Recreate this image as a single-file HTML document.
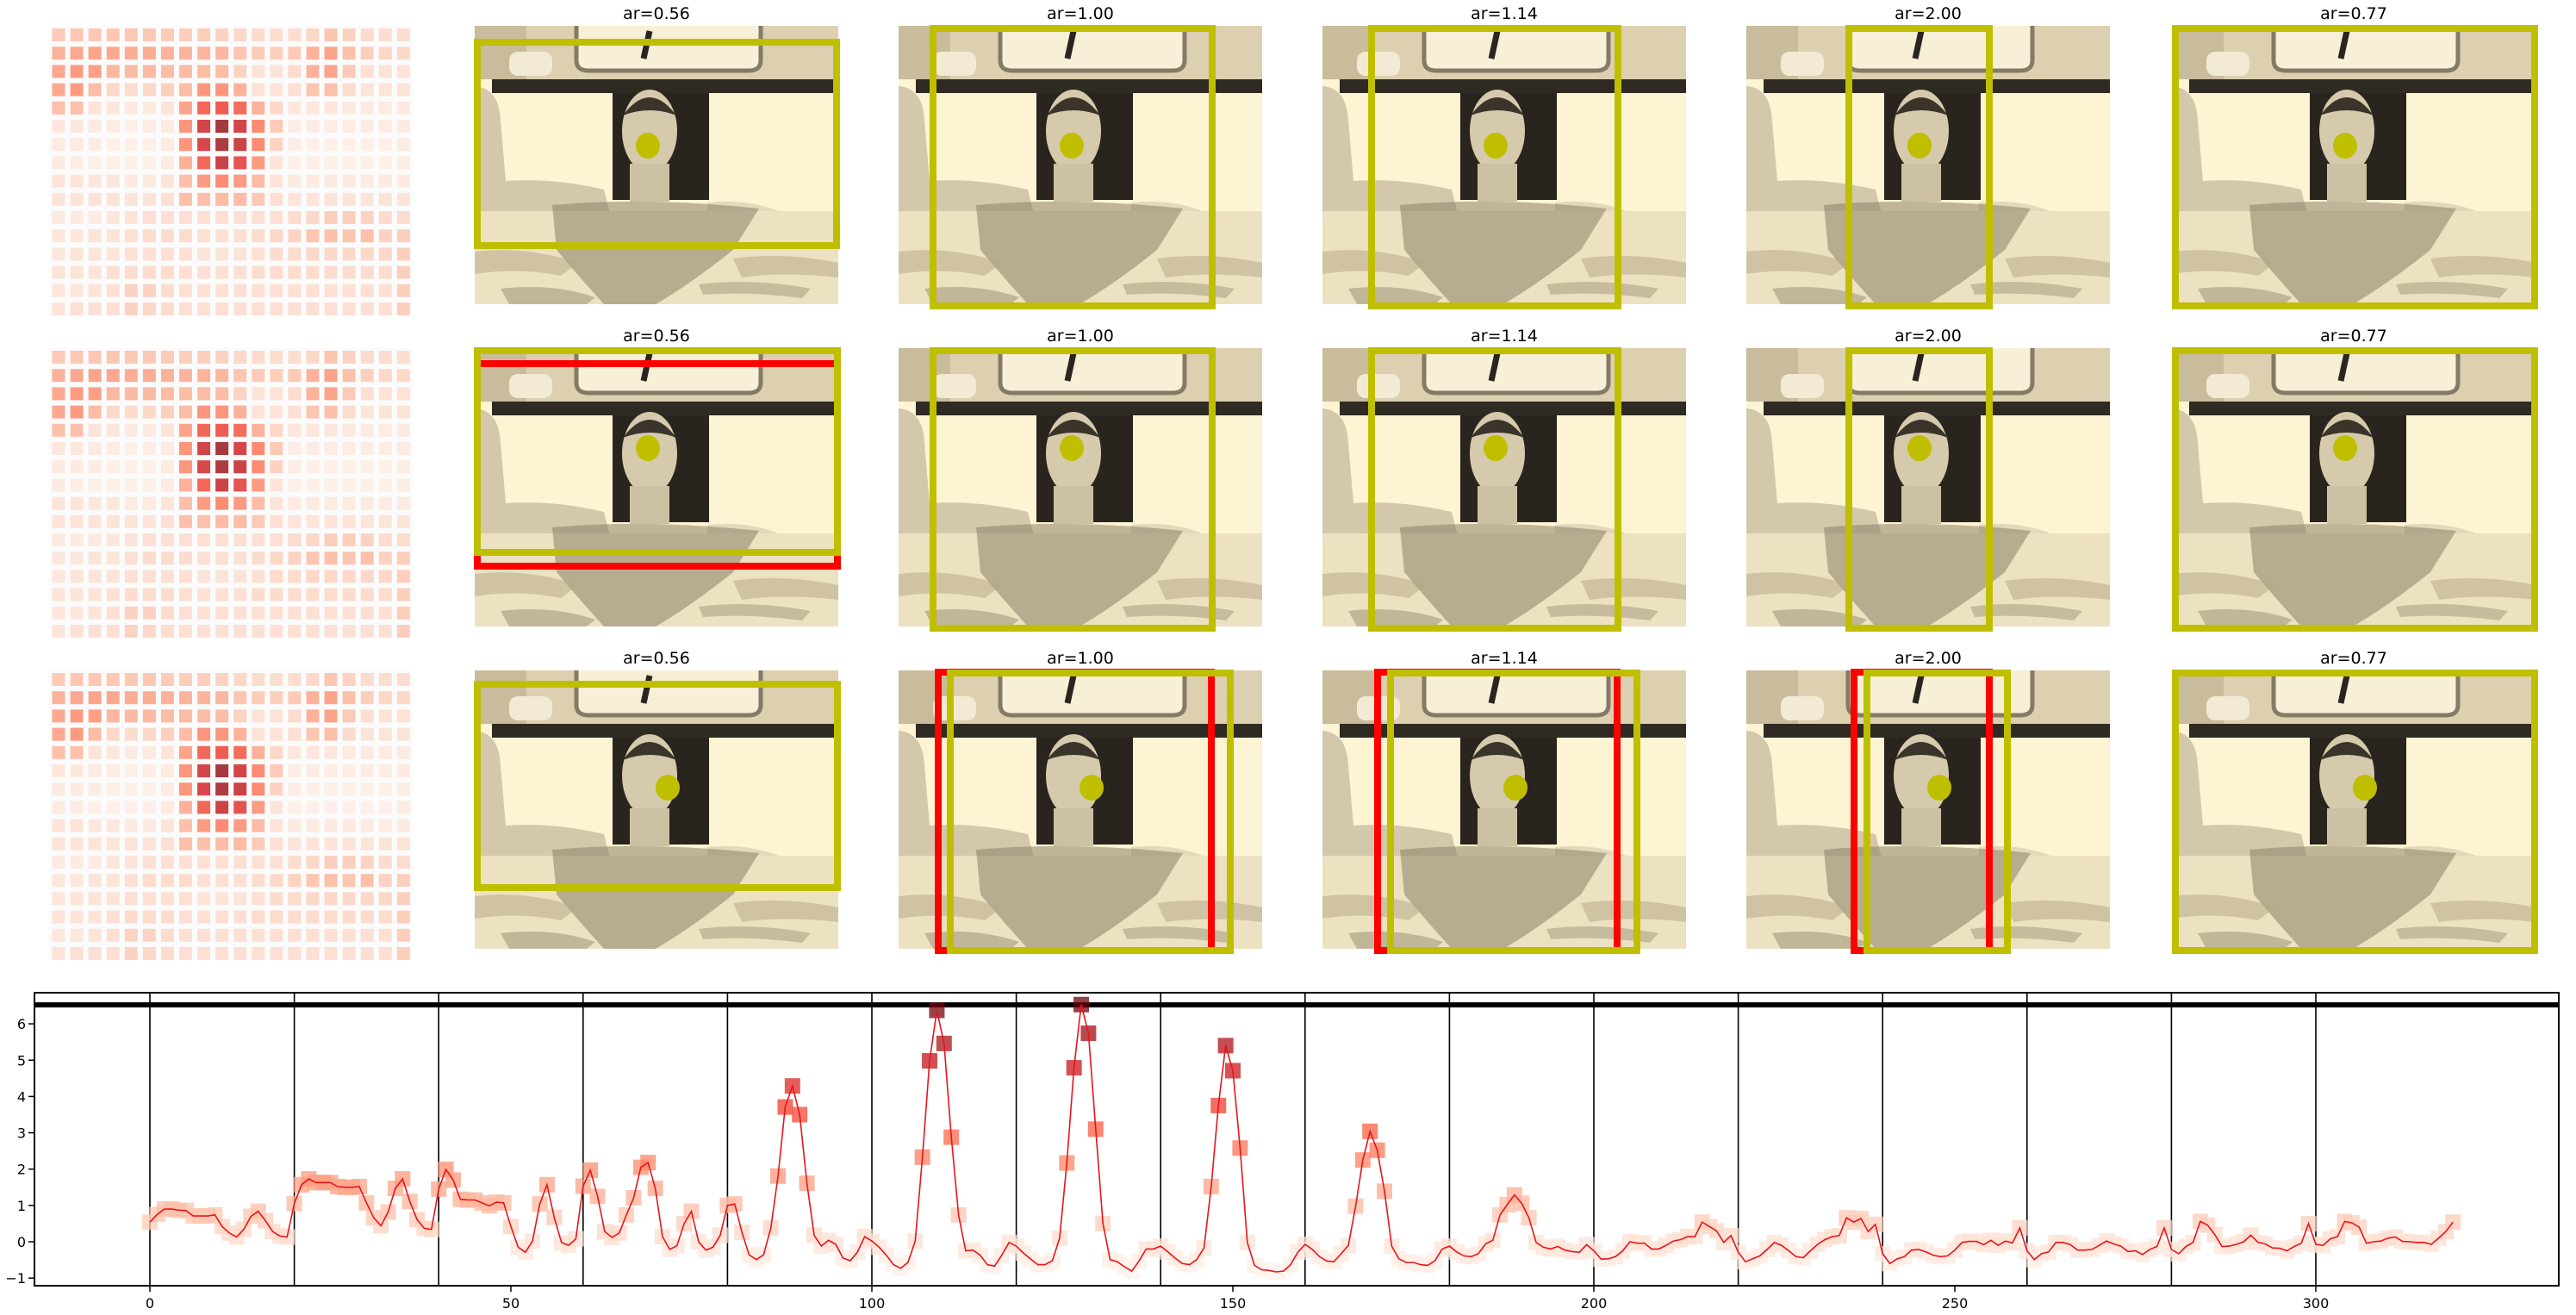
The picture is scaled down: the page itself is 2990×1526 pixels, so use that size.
<!DOCTYPE html>
<html><head><meta charset="utf-8">
<style>
html,body{margin:0;padding:0;background:#fff;}
svg{display:block;}
text{font-family:"DejaVu Sans","Liberation Sans",sans-serif;}
</style></head>
<body>
<svg id="fig" width="2990" height="1526" viewBox="0 0 2990 1526" xmlns="http://www.w3.org/2000/svg">
<defs>
<symbol id="photo" viewBox="0 0 422 323">
  <rect x="0" y="0" width="422" height="323" fill="#fcf4d2"/>
  <rect x="0" y="0" width="422" height="62" fill="#ddd0b0"/>
  <rect x="0" y="0" width="60" height="62" fill="#c9bc9c"/>
  <path d="M118 0 V40 Q118 52 132 52 H318 Q332 52 332 40 V0" fill="#f7efd6" stroke="#857a66" stroke-width="5"/>
  <path d="M203 6 L196 38" stroke="#2a251e" stroke-width="7"/>
  <rect x="40" y="30" width="50" height="28" rx="10" fill="#f2ead4"/>
  <rect x="20" y="62" width="402" height="16" fill="#2f2a22"/>
  <rect x="160" y="78" width="112" height="124" fill="#29241d"/>
  <path d="M0 70 Q28 72 30 110 L36 180 Q90 176 150 190 L160 230 L0 235 Z" fill="#d3c8ac"/>
  <path d="M270 205 Q320 200 360 218 L350 236 L270 232 Z" fill="#e3d8bc"/>
  <ellipse cx="203" cy="122" rx="32" ry="48" fill="#d6caac"/>
  <path d="M172 104 Q203 62 234 104 Q203 92 172 104 Z" fill="#3a342b"/>
  <rect x="180" y="160" width="46" height="44" fill="#cdc1a3"/>
  <rect x="0" y="215" width="422" height="108" fill="#ece1c0"/>
  <path d="M90 208 Q200 198 330 212 L300 260 Q250 300 210 323 L150 323 Q120 290 95 260 Z" fill="#8d8168" opacity="0.55"/>
  <path d="M0 262 Q60 255 120 275 L100 290 Q50 280 0 288 Z" fill="#b4a685" opacity="0.5"/>
  <path d="M300 270 Q360 262 422 275 L422 292 Q360 285 310 292 Z" fill="#b4a685" opacity="0.5"/>
  <path d="M30 305 Q90 298 140 315 L130 323 L40 323 Z" fill="#8f8268" opacity="0.45"/>
  <path d="M260 300 Q320 292 390 305 L380 316 Q320 308 265 312 Z" fill="#8f8268" opacity="0.4"/>
</symbol>
</defs>
<g id="topgrid"></g>
<g id="chart"></g>
</svg>
<script>
// ===== Chart data =====
const xIndex = Array.from({length:320},(_, i)=>i);
const scores = [
0.54,0.75,0.9,0.9,0.87,0.86,0.71,0.71,0.71,0.74,
0.42,0.24,0.13,0.34,0.7,0.84,0.58,0.28,0.16,0.13,
1.05,1.57,1.73,1.63,1.63,1.63,1.52,1.5,1.5,1.52,
1.07,0.66,0.44,0.82,1.47,1.73,1.11,0.61,0.37,0.34,
1.45,1.99,1.7,1.17,1.15,1.15,1.07,0.99,1.09,1.07,
0.42,-0.15,-0.29,0.02,1.04,1.57,0.67,-0.02,-0.1,0.08,
1.53,1.97,1.25,0.28,0.12,0.24,0.74,1.21,2.05,2.18,
1.47,0.14,-0.21,-0.11,0.5,0.84,0,-0.23,-0.15,0.18,
1.0,1.04,0.26,-0.36,-0.49,-0.36,0.38,1.81,3.71,4.29,
3.5,1.61,0.18,-0.12,0.04,-0.07,-0.45,-0.52,-0.29,0.14,
0.02,-0.15,-0.37,-0.63,-0.73,-0.57,0.02,2.33,4.98,6.37,
5.46,2.88,0.74,-0.25,-0.23,-0.37,-0.63,-0.67,-0.37,-0.02,
-0.12,-0.31,-0.48,-0.63,-0.63,-0.52,0.1,2.17,4.79,6.53,
5.74,3.1,0.5,-0.49,-0.55,-0.69,-0.81,-0.53,-0.2,-0.2,
-0.12,-0.28,-0.45,-0.6,-0.63,-0.49,-0.17,1.52,3.75,5.4,
4.71,2.58,-0.02,-0.65,-0.77,-0.79,-0.83,-0.81,-0.63,-0.29,
-0.07,-0.21,-0.41,-0.53,-0.55,-0.33,-0.1,0.98,2.25,3.04,
2.52,1.39,-0.12,-0.47,-0.57,-0.57,-0.63,-0.65,-0.52,-0.2,
-0.12,-0.28,-0.39,-0.41,-0.33,-0.06,0.04,0.74,1.02,1.29,
1.06,0.66,-0.02,-0.15,-0.2,-0.13,-0.23,-0.27,-0.29,-0.08,
-0.25,-0.48,-0.47,-0.41,-0.25,0,-0.04,-0.04,-0.2,-0.2,
-0.1,0.02,0.06,0.14,0.14,0.54,0.42,0.3,-0.02,0.17,
-0.29,-0.55,-0.47,-0.39,-0.21,-0.02,-0.1,-0.25,-0.41,-0.44,
-0.25,-0.07,0.06,0.14,0.17,0.66,0.54,0.64,0.28,0.48,
-0.33,-0.6,-0.47,-0.41,-0.23,-0.21,-0.28,-0.37,-0.41,-0.39,
-0.23,-0.02,0.01,0.01,-0.08,0.04,-0.1,0.02,-0.03,0.38,
-0.25,-0.49,-0.33,-0.28,-0.02,-0.02,-0.08,-0.23,-0.23,-0.21,
-0.1,0.02,-0.06,-0.12,-0.27,-0.25,-0.35,-0.21,-0.13,0.38,
-0.21,-0.33,-0.13,-0.02,0.56,0.46,0.2,-0.13,-0.12,-0.07,
0,0.18,-0.02,-0.06,-0.17,-0.18,-0.25,-0.13,-0.04,0.5,
-0.07,-0.1,0.08,0.14,0.56,0.52,0.4,-0.04,0,0.02,
0.1,0.13,0.01,0,-0.02,-0.02,-0.07,0.1,0.28,0.54
];
const segmentBounds = [0,20,40,60,80,100,120,140,160,180,200,220,240,260,280,300];
const xTicks = [0,50,100,150,200,250,300];
const yTicks = [-1,0,1,2,3,4,5,6];
const thresholdValue = 6.52;

// ===== Heatmap data (16 rows x 20 cols) =====
const heatRows = [
[.26,.27,.27,.27,.27,.27,.25,.24,.24,.22,.2,.18,.17,.17,.2,.28,.22,.18,.17,.17],
[.36,.4,.42,.4,.38,.38,.36,.35,.35,.34,.28,.25,.24,.26,.36,.42,.3,.24,.2,.2],
[.4,.46,.44,.34,.33,.33,.32,.32,.32,.32,.22,.15,.15,.18,.36,.42,.26,.16,.15,.15],
[.4,.46,.32,.2,.18,.2,.24,.32,.48,.48,.36,.15,.14,.16,.28,.3,.18,.14,.14,.14],
[.3,.3,.14,.12,.1,.1,.14,.42,.66,.7,.64,.36,.2,.12,.12,.12,.1,.1,.1,.1],
[.12,.12,.1,.08,.06,.08,.1,.48,.82,1.0,.82,.52,.26,.08,.08,.08,.08,.08,.08,.1],
[.1,.1,.08,.06,.06,.06,.1,.48,.8,.98,.86,.52,.22,.08,.06,.06,.06,.06,.06,.08],
[.1,.08,.06,.06,.06,.06,.1,.36,.66,.86,.74,.46,.14,.06,.06,.06,.06,.06,.06,.08],
[.14,.14,.12,.12,.1,.1,.14,.3,.46,.52,.46,.32,.14,.1,.1,.1,.1,.1,.1,.1],
[.14,.14,.14,.14,.14,.14,.16,.3,.3,.32,.32,.26,.16,.14,.14,.14,.14,.14,.14,.14],
[.1,.1,.1,.12,.14,.16,.16,.16,.16,.16,.16,.16,.16,.18,.2,.24,.24,.22,.18,.18],
[.12,.12,.14,.14,.16,.18,.18,.18,.16,.16,.16,.18,.2,.22,.28,.3,.28,.3,.22,.24],
[.12,.14,.14,.14,.16,.16,.16,.16,.14,.14,.14,.16,.18,.18,.2,.2,.2,.2,.2,.24],
[.14,.14,.14,.16,.18,.18,.18,.16,.16,.16,.16,.18,.18,.18,.18,.18,.18,.18,.18,.24],
[.12,.12,.14,.16,.22,.22,.18,.16,.16,.16,.16,.16,.16,.16,.16,.16,.16,.16,.16,.24],
[.14,.16,.16,.16,.22,.2,.18,.16,.16,.16,.16,.16,.16,.16,.16,.16,.16,.16,.16,.24]
];

const arLabels = ["ar=0.56","ar=1.00","ar=1.14","ar=2.00","ar=0.77"];
const NS = "http://www.w3.org/2000/svg";
function mk(tag, attrs, parent){const e=document.createElementNS(NS,tag);for(const k in attrs)e.setAttribute(k,attrs[k]);parent.appendChild(e);return e;}

const redsStops = [[255,245,240],[254,224,210],[252,187,161],[252,146,114],[251,106,74],[239,59,44],[203,24,29],[165,15,21],[103,0,13]];
function reds(t){t=Math.max(0,Math.min(1,t));const p=t*(redsStops.length-1);const i=Math.min(Math.floor(p),redsStops.length-2);const f=p-i;const a=redsStops[i],b=redsStops[i+1];return `rgb(${Math.round(a[0]+(b[0]-a[0])*f)},${Math.round(a[1]+(b[1]-a[1])*f)},${Math.round(a[2]+(b[2]-a[2])*f)})`;}

const topG = document.getElementById('topgrid');
const rowY = [30, 404, 778];
const colX = [551, 1043, 1535, 2027, 2521];
const PW = 422, PH = 323;
const yellow = "#bfbf00", red = "#ff0000";

for (let r=0;r<3;r++){
  const hm = mk('g',{},topG);
  
  
  mk('rect',{x:57,y:rowY[r],width:422,height:336,fill:'#fbfbfb'},hm);
  for (let i=0;i<16;i++) for (let j=0;j<20;j++){
    const v = heatRows[i][j];
    const c = mk('rect',{x:60.5+j*21.07,y:rowY[r]+3+i*21.2,width:15,height:15,fill:reds(v*0.92),'fill-opacity':0.8},hm);
    
    
  }
  for (let c=0;c<5;c++){
    const g = mk('g',{transform:`translate(${colX[c]},${rowY[r]})`},topG);
    
    
    mk('use',{href:'#photo',x:0,y:0,width:PW,height:PH},g);
    const t = mk('text',{x:PW/2,y:-8,'text-anchor':'middle','font-size':19,fill:'#000'},g);
    t.textContent = arLabels[c];
    
    
  }
}
function box(r,c,x1,y1,x2,y2,color,w){
  const e = mk('rect',{x:colX[c]+x1,y:rowY[r]+y1,width:x2-x1,height:y2-y1,fill:'none',stroke:color,'stroke-width':w},topG);
  
  
}
function dot(r,c,x,y){
  const e = mk('ellipse',{cx:colX[c]+x,cy:rowY[r]+y,rx:14,ry:15,fill:yellow},topG);
  
  
}
box(0,0,2,18,420,256,red,2);
box(0,0,3,19,420,255,yellow,8);
box(0,1,40,3,364,325,yellow,8);
box(0,2,57,3,343,325,yellow,8);
box(0,3,119,3,282,325,yellow,8);
box(0,4,4,3,421,325,yellow,8);
box(1,0,3,18,421,253,red,8);
box(1,0,3,3,421,237,yellow,8);
box(1,1,40,3,364,325,yellow,8);
box(1,2,57,3,343,325,yellow,8);
box(1,3,119,3,282,325,yellow,8);
box(1,4,4,3,421,325,yellow,8);
box(2,0,3,16,421,252,yellow,8);
box(2,1,46,2,363,325,red,8);
box(2,1,60,3,385,325,yellow,8);
box(2,2,64,2,342,325,red,8);
box(2,2,79,3,365,325,yellow,8);
box(2,3,125,2,282,325,red,8);
box(2,3,140,3,303,325,yellow,8);
box(2,4,4,3,421,325,yellow,8);
for (let c=0;c<5;c++){ dot(0,c,201,139); dot(1,c,201,116); dot(2,c,224,136); }

// ===== Chart =====
const ch = document.getElementById('chart');
const AX = {l:40, r:2970, t:1152, b:1492};
const xS = v => 174 + v*8.38;
const yS = v => 1441 - v*42.15;
const axesBg = mk('rect',{x:AX.l,y:AX.t,width:AX.r-AX.l,height:AX.b-AX.t,fill:'#fff'},ch);


const clipEl = mk('clipPath',{id:'axclip'},ch);
mk('rect',{x:AX.l,y:AX.t,width:AX.r-AX.l,height:AX.b-AX.t},clipEl);
const plot = mk('g',{'clip-path':'url(#axclip)'},ch);
segmentBounds.forEach(s=>{
  const l = mk('line',{x1:xS(s),x2:xS(s),y1:AX.t,y2:AX.b,stroke:'#000','stroke-width':1.6},plot);
  
  
});
const th = mk('line',{x1:AX.l,x2:AX.r,y1:yS(thresholdValue),y2:yS(thresholdValue),stroke:'#000','stroke-width':6},plot);


const vmin=-0.9, vmax=6.6;
scores.forEach((v,i)=>{
  const t=(v-vmin)/(vmax-vmin);
  const m = mk('rect',{x:xS(xIndex[i])-9,y:yS(v)-9,width:18,height:18,fill:reds(t),'fill-opacity':0.75},plot);
  
  
});
const pts = scores.map((v,i)=>xS(xIndex[i]).toFixed(1)+','+yS(v).toFixed(1)).join(' ');
const scoreLine = mk('polyline',{points:pts,fill:'none',stroke:'#e8141c','stroke-width':1.6},plot);


const frame = mk('rect',{x:AX.l,y:AX.t,width:AX.r-AX.l,height:AX.b-AX.t,fill:'none',stroke:'#000','stroke-width':2},ch);


xTicks.forEach(v=>{
  const x=xS(v);
  const tk = mk('line',{x1:x,x2:x,y1:AX.b,y2:AX.b+7,stroke:'#000','stroke-width':1.5},ch);
  
  
  const tx = mk('text',{x:x,y:AX.b+26,'text-anchor':'middle','font-size':16,fill:'#000'},ch);
  tx.textContent = String(v);
  
  
});
yTicks.forEach(v=>{
  const y=yS(v);
  const tk = mk('line',{x1:AX.l-7,x2:AX.l,y1:y,y2:y,stroke:'#000','stroke-width':1.5},ch);
  
  
  const tx = mk('text',{x:AX.l-10,y:y+6,'text-anchor':'end','font-size':16,fill:'#000'},ch);
  tx.textContent = v<0 ? '\u2212'+Math.abs(v) : String(v);
  
  
});
</script>
</body></html>
